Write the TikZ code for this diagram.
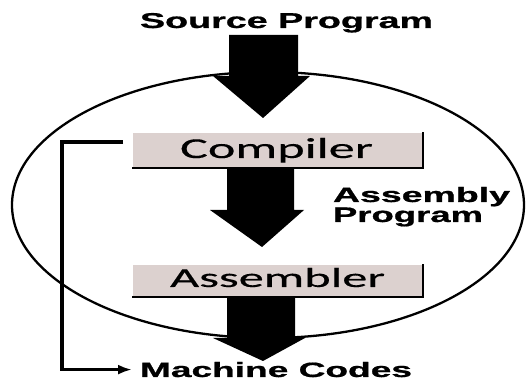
\documentclass[tikz,border=0pt]{standalone}
\usepackage{fontspec}
\setmainfont{Liberation Sans}
\newfontfamily\heavy[BoldFeatures={FakeBold=0.8}]{Liberation Sans}
\newfontfamily\boxfont[FakeBold=0.3]{Carlito}
\usepackage{graphicx}
\usetikzlibrary{arrows.meta}
\definecolor{boxfill}{HTML}{DCD1CF}
\begin{document}
\begin{tikzpicture}[x=1pt,y=-1pt,
  lbl/.style={inner sep=0pt, outer sep=0pt, anchor=base west},
  procbox/.style={fill=boxfill, inner sep=0pt, outer sep=0pt, anchor=north west},
  shadowline/.style={line width=2.4pt, line cap=rect},
  blk/.style={fill=black},
  conn/.style={line width=3.4pt, -{Latex[length=14pt,width=10pt]}}]
\useasboundingbox (0,0) rectangle (528,382);

% enclosing ellipse
\draw[line width=2.3pt] (268,205) ellipse [x radius=256, y radius=133];

% boxes
\node[procbox, minimum width=290pt, minimum height=35pt] (cbox) at (133,133) {};
\draw[shadowline] (cbox.north east) -- (cbox.south east) -- (cbox.south west);
\node[procbox, minimum width=290pt, minimum height=32pt] (abox) at (133,265) {};
\draw[shadowline] (abox.north east) -- (abox.south east) -- (abox.south west);

% texts
\node[lbl] (src) at (140,28) {\resizebox{293pt}{15pt}{\heavy\bfseries Source Program}};
\node[lbl] (comp) at (180,158) {\resizebox{193pt}{20pt}{\boxfont Compiler}};
\node[lbl] (asm1) at (333,202) {\resizebox{177pt}{15pt}{\heavy\bfseries Assembly}};
\node[lbl] (asm2) at (333,222) {\resizebox{150pt}{14.5pt}{\heavy\bfseries Program}};
\node[lbl] (asmb) at (170,287) {\resizebox{215pt}{19pt}{\boxfont Assembler}};
\node[lbl] (mc) at (140,377) {\resizebox{272pt}{15pt}{\heavy\bfseries Machine Codes}};

% block arrows
\fill[blk] (229,35) -- (298,35) -- (298,76) -- (310,76) -- (263,118) -- (213,76) -- (229,76) -- cycle;
\fill[blk] (227,168) -- (294,168) -- (294,210) -- (304,210) -- (262,247) -- (210,210) -- (227,210) -- cycle;
\fill[blk] (227,297) -- (295,297) -- (295,338) -- (305,338) -- (263,361) -- (213,338) -- (227,338) -- cycle;

% bracket connector
\coordinate (brk) at (123,142);
\draw[conn] (brk) -- (62,142) |- ([xshift=-8pt]mc.west);
\end{tikzpicture}
\end{document}
